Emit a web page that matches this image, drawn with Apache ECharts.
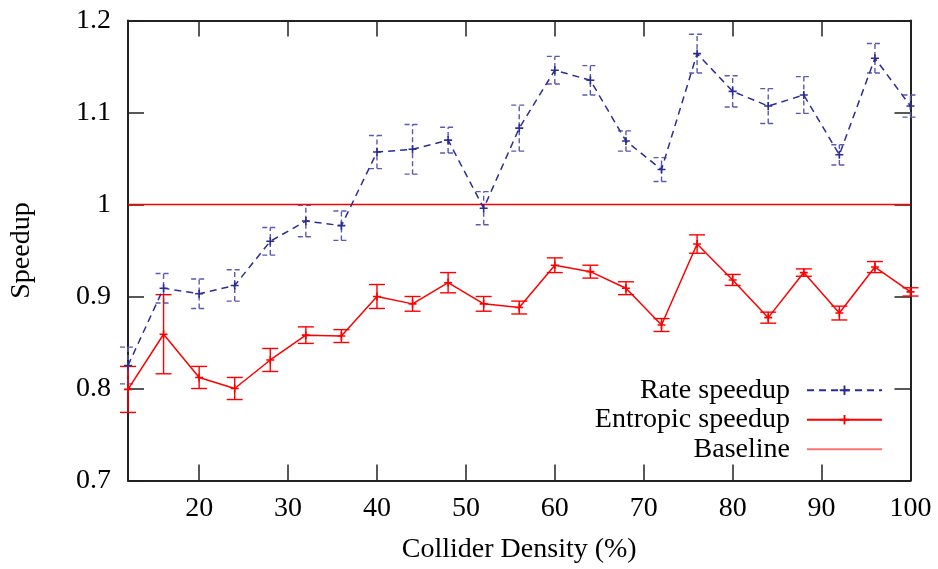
<!DOCTYPE html>
<html>
<head>
<meta charset="utf-8">
<script src="https://cdn.jsdelivr.net/npm/echarts@6/dist/echarts.min.js"></script>
<style>
  html, body { margin: 0; padding: 0; background: #fff; }
  #chart { width: 938px; height: 569px; }
</style>
</head>
<body>
<div id="chart"></div>
<script>
// collider density (%)
const density = [12, 16, 20, 24, 28, 32, 36, 40, 44, 48, 52, 56, 60, 64, 68, 72, 76, 80, 84, 88, 92, 96, 100];

const rateSpeedup = [0.825, 0.909, 0.903, 0.912, 0.960, 0.982, 0.977, 1.057, 1.060, 1.070, 0.996, 1.083,
  1.146, 1.135, 1.069, 1.038, 1.164, 1.123, 1.107, 1.119, 1.054, 1.159, 1.107];
const rateErr = [0.020, 0.016, 0.016, 0.017, 0.015, 0.017, 0.016, 0.018, 0.027, 0.014, 0.018, 0.025,
  0.015, 0.016, 0.011, 0.013, 0.021, 0.017, 0.019, 0.020, 0.011, 0.016, 0.012];

const entropicSpeedup = [0.799, 0.859, 0.812, 0.800, 0.831, 0.858, 0.857, 0.900, 0.892, 0.915, 0.892, 0.888,
  0.934, 0.927, 0.909, 0.869, 0.957, 0.918, 0.877, 0.926, 0.882, 0.932, 0.905];
const entropicErr = [0.025, 0.043, 0.012, 0.012, 0.0125, 0.009, 0.007, 0.013, 0.008, 0.011, 0.008, 0.007,
  0.008, 0.007, 0.007, 0.007, 0.010, 0.006, 0.006, 0.004, 0.0075, 0.006, 0.0045];

const baselineX = [12, 100];
const baselineY = [1, 1];

const xTicks = [20, 30, 40, 50, 60, 70, 80, 90, 100];

const FONT = "'Liberation Serif', serif";
const blue = '#2c2c96';
const blueBar = '#5a5ab0';
const red = '#ff0000';
const plus = 'path://M4,0h2v4h4v2h-4v4h-2v-4h-4v-2h4z';

const pairs = (xs, ys) => xs.map((x, i) => [x, ys[i]]);
const bars = (xs, ys, es) => xs.map((x, i) => [x, ys[i] - es[i], ys[i] + es[i]]);

function errorBar(color, dash) {
  return function (params, api) {
    const x = api.value(0);
    const lo = api.coord([x, api.value(1)]);
    const hi = api.coord([x, api.value(2)]);
    const hw = 8;
    const style = { stroke: color, lineWidth: 1.4, lineDash: dash, fill: null };
    return {
      type: 'group',
      children: [
        { type: 'line', shape: { x1: lo[0], y1: lo[1], x2: hi[0], y2: hi[1] }, style: style },
        { type: 'line', shape: { x1: hi[0] - hw, y1: hi[1], x2: hi[0] + hw, y2: hi[1] }, style: style },
        { type: 'line', shape: { x1: lo[0] - hw, y1: lo[1], x2: lo[0] + hw, y2: lo[1] }, style: style }
      ]
    };
  };
}

const chart = echarts.init(document.getElementById('chart'));

const axisCommon = {
  axisLine: { show: true, lineStyle: { color: '#222', width: 2 } },
  axisTick: { show: true, inside: true, length: 16, lineStyle: { color: '#222', width: 1.5 } },
  splitLine: { show: false }
};

const option = {
  animation: false,
  textStyle: { fontFamily: FONT },
  grid: { left: 127, right: 27.5, top: 20.5, bottom: 88.5, containLabel: false },
  legend: {
    data: [
      'Rate speedup',
      'Entropic speedup',
      { name: 'Baseline', itemStyle: { opacity: 0 }, lineStyle: { color: '#f47676', width: 2 } }
    ],
    orient: 'vertical',
    align: 'right',
    right: 50,
    top: 371,
    itemWidth: 75,
    itemHeight: 12,
    itemGap: 1,
    selectedMode: false,
    textStyle: { fontFamily: FONT, fontSize: 28, color: '#000', lineHeight: 28.5, padding: [0, 12, 0, 0] }
  },
  xAxis: [
    Object.assign({}, axisCommon, {
      type: 'value', min: 12, max: 100, position: 'bottom',
      name: 'Collider Density (%)', nameLocation: 'middle', nameGap: 55,
      nameTextStyle: { fontFamily: FONT, fontSize: 28, color: '#000' },
      axisTick: Object.assign({}, axisCommon.axisTick, { customValues: xTicks }),
      axisLabel: { customValues: xTicks, margin: 14, fontFamily: FONT, fontSize: 28, color: '#000' }
    }),
    Object.assign({}, axisCommon, {
      type: 'value', min: 12, max: 100, position: 'top',
      axisTick: Object.assign({}, axisCommon.axisTick, { customValues: xTicks }),
      axisLabel: { show: false }
    })
  ],
  yAxis: [
    Object.assign({}, axisCommon, {
      type: 'value', min: 0.7, max: 1.2, interval: 0.1, position: 'left',
      name: 'Speedup', nameLocation: 'middle', nameGap: 92,
      nameTextStyle: { fontFamily: FONT, fontSize: 28, color: '#000' },
      axisLabel: { margin: 17, fontFamily: FONT, fontSize: 28, color: '#000' }
    }),
    Object.assign({}, axisCommon, {
      type: 'value', min: 0.7, max: 1.2, interval: 0.1, position: 'right',
      axisLabel: { show: false }
    })
  ],
  series: [
    {
      name: 'Rate speedup', type: 'line', data: pairs(density, rateSpeedup),
      symbol: plus, symbolSize: 8, showSymbol: true,
      lineStyle: { color: blue, width: 1.5, type: [7, 5] },
      itemStyle: { color: blue }, z: 3
    },
    {
      name: 'Entropic speedup', type: 'line', data: pairs(density, entropicSpeedup),
      symbol: plus, symbolSize: 8,
      lineStyle: { color: red, width: 1.5 },
      itemStyle: { color: red }, z: 3
    },
    {
      name: 'Baseline', type: 'line', data: pairs(baselineX, baselineY),
      symbol: 'none', lineStyle: { color: red, width: 1.5 }, itemStyle: { color: red }, z: 2
    },
    {
      name: 'rateErr', type: 'custom', data: bars(density, rateSpeedup, rateErr),
      renderItem: errorBar(blueBar, [5, 3]), encode: { x: 0, y: [1, 2] }, clip: false, z: 2
    },
    {
      name: 'entropicErr', type: 'custom', data: bars(density, entropicSpeedup, entropicErr),
      renderItem: errorBar(red, null), encode: { x: 0, y: [1, 2] }, clip: false, z: 2
    }
  ]
};

option && chart.setOption(option);
</script>
</body>
</html>
